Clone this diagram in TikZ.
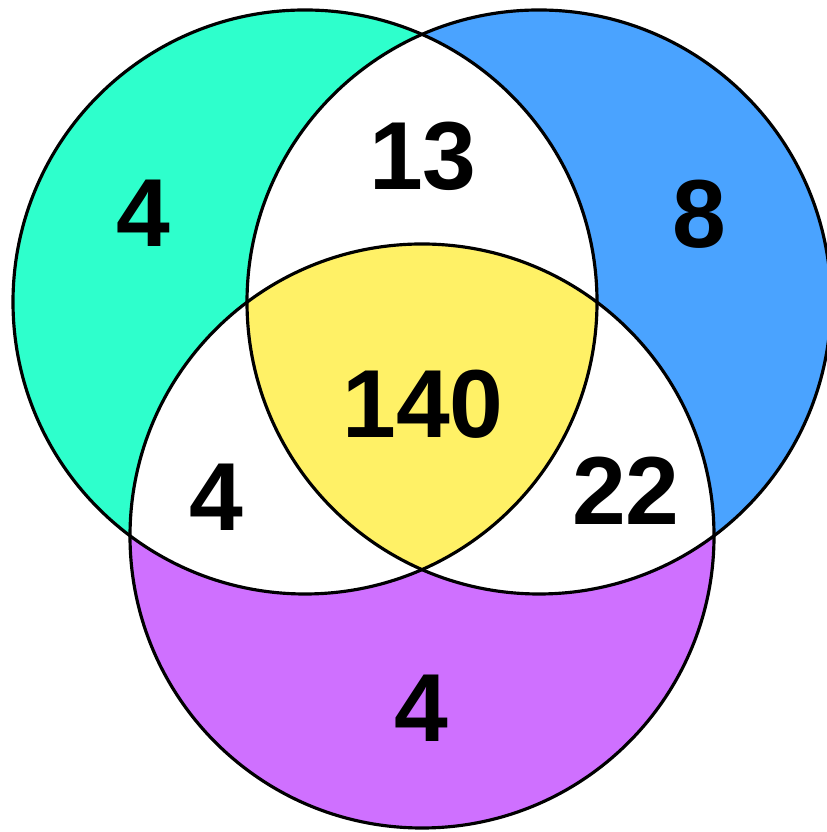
\documentclass[tikz,border=0pt]{standalone}
\usepackage{fontspec}
\setmainfont{Liberation Sans}
\usetikzlibrary{positioning}
\definecolor{setteal}{RGB}{46,255,204}
\definecolor{setblue}{RGB}{74,163,255}
\definecolor{setpurple}{RGB}{207,112,255}
\definecolor{setyellow}{RGB}{255,241,102}

\begin{document}
\begin{tikzpicture}[
        outline/.style={draw=black, line width=0.9pt},
        count/.style={font=\fontsize{27.5}{33}\selectfont\bfseries, text=black, inner sep=0pt}
    ]
    \useasboundingbox (0,0) rectangle (8.26,8.32);

    % circle centres
    \coordinate (L) at (3.05, 5.30);
    \coordinate (R) at (5.39, 5.30);
    \coordinate (B) at (4.22, 2.96);
    \def\rad{2.92}

    % single sets
    \fill[setteal] (L) circle (\rad);
    \fill[setblue] (R) circle (\rad);
    \fill[setpurple] (B) circle (\rad);

    % pairwise overlaps
    \begin{scope}
        \clip (L) circle (\rad);
        \fill[white] (R) circle (\rad);
        \fill[white] (B) circle (\rad);
    \end{scope}
    \begin{scope}
        \clip (R) circle (\rad);
        \fill[white] (B) circle (\rad);
    \end{scope}

    % all three
    \begin{scope}
        \clip (L) circle (\rad);
        \clip (R) circle (\rad);
        \fill[setyellow] (B) circle (\rad);
    \end{scope}

    \draw[outline] (L) circle (\rad);
    \draw[outline] (R) circle (\rad);
    \draw[outline] (B) circle (\rad);

    % counts
    \node[count] (onlyL) at (1.43, 6.19) {4};
    \node[count] (onlyR) at (6.99, 6.18) {8};
    \node[count] (onlyB) at (4.21, 1.24) {4};
    \node[count] (LR) at (4.23, 6.76) {13};
    \node[count] (LB) at (2.16, 3.35) {4};
    \node[count] (RB) at (6.26, 3.41) {22};
    \node[count] (LRB) at (4.23, 4.28) {140};
\end{tikzpicture}
\end{document}
